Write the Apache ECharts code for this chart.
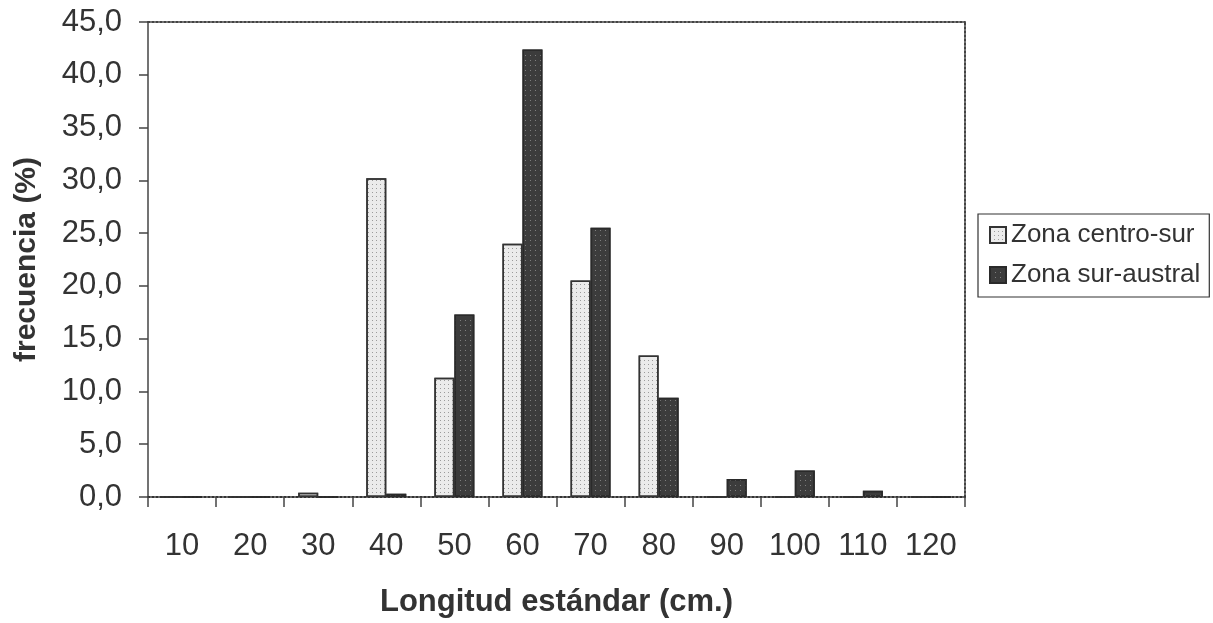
<!DOCTYPE html>
<html>
<head>
<meta charset="utf-8">
<script src="https://cdn.jsdelivr.net/npm/echarts@6/dist/echarts.min.js"></script>
<style>
html,body{margin:0;padding:0;background:#fff;}
#chart{width:1213px;height:623px;}
</style>
</head>
<body>
<div id="chart"></div>
<script>
var categories = ['10','20','30','40','50','60','70','80','90','100','110','120'];
var centroSur  = [0, 0, 0.4, 30.2, 11.3, 24.0, 20.5, 13.4, 0, 0, 0, 0];
var surAustral = [0, 0, 0, 0.3, 17.3, 42.4, 25.5, 9.4, 1.7, 2.5, 0.6, 0];
var seriesNames = ['Zona centro-sur', 'Zona sur-austral'];
var xTitle = 'Longitud estándar (cm.)';
var yTitle = 'frecuencia (%)';

var FONT = 'Liberation Sans, Arial, sans-serif';
var chart = echarts.init(document.getElementById('chart'), null, {renderer: 'canvas'});

chart.setOption({
  animation: false,
  backgroundColor: '#fff',
  textStyle: {fontFamily: FONT},
  grid: {left: 148, right: 248, top: 22, bottom: 126, containLabel: false},
  legend: {
    orient: 'vertical',
    left: 978, top: 214,
    padding: [8, 9, 9, 11],
    itemGap: 14,
    itemWidth: 16, itemHeight: 16,
    icon: 'rect',
    borderColor: '#333', borderWidth: 1.2,
    textStyle: {fontSize: 26, color: '#333', fontFamily: FONT},
    data: seriesNames
  },
  xAxis: [{
    type: 'category',
    data: categories,
    boundaryGap: true,
    axisLine: {lineStyle: {color: '#333', width: 2, type: 'dotted'}},
    axisTick: {show: true, length: 10, alignWithLabel: false, lineStyle: {color: '#444', width: 1.5}},
    axisLabel: {fontSize: 31, color: '#333', margin: 34, fontFamily: FONT},
    name: xTitle,
    nameLocation: 'middle',
    nameGap: 90,
    nameTextStyle: {fontSize: 31, fontWeight: 'bold', color: '#333', fontFamily: FONT}
  }, {
    type: 'category',
    data: categories,
    position: 'top',
    axisLine: {onZero: false, lineStyle: {color: '#444', width: 2, type: 'dotted'}},
    axisTick: {show: false},
    axisLabel: {show: false}
  }],
  yAxis: [{
    type: 'value',
    min: 0, max: 45, interval: 5,
    splitLine: {show: false},
    axisLine: {show: true, lineStyle: {color: '#444', width: 1.5}},
    axisTick: {show: true, length: 9, lineStyle: {color: '#444', width: 1.5}},
    axisLabel: {
      fontSize: 31, color: '#333', margin: 26, fontFamily: FONT,
      formatter: function (v) { return v.toFixed(1).replace('.', ','); }
    },
    name: yTitle,
    nameLocation: 'middle',
    nameGap: 106,
    nameTextStyle: {fontSize: 30, fontWeight: 'bold', color: '#333', fontFamily: FONT}
  }, {
    type: 'value',
    min: 0, max: 45, interval: 5,
    position: 'right',
    splitLine: {show: false},
    axisLine: {show: true, onZero: false, lineStyle: {color: '#444', width: 2, type: 'dotted'}},
    axisTick: {show: false},
    axisLabel: {show: false}
  }],
  series: [{
    name: seriesNames[0],
    type: 'bar',
    data: centroSur,
    barWidth: 20,
    barGap: '0%',
    itemStyle: {
      color: '#ebebeb',
      borderColor: '#333',
      borderWidth: 1.5,
      decal: {symbol: 'rect', symbolSize: 1, color: 'rgba(90,90,90,0.55)', dashArrayX: [1, 3], dashArrayY: [1, 3], rotation: 0}
    }
  }, {
    name: seriesNames[1],
    type: 'bar',
    data: surAustral,
    barWidth: 20,
    itemStyle: {
      color: '#3c3c3c',
      borderColor: '#2a2a2a',
      borderWidth: 1.5,
      decal: {symbol: 'rect', symbolSize: 1, color: 'rgba(170,170,170,0.6)', dashArrayX: [1, 4], dashArrayY: [1, 4], rotation: 0}
    }
  }]
});
</script>
</body>
</html>
